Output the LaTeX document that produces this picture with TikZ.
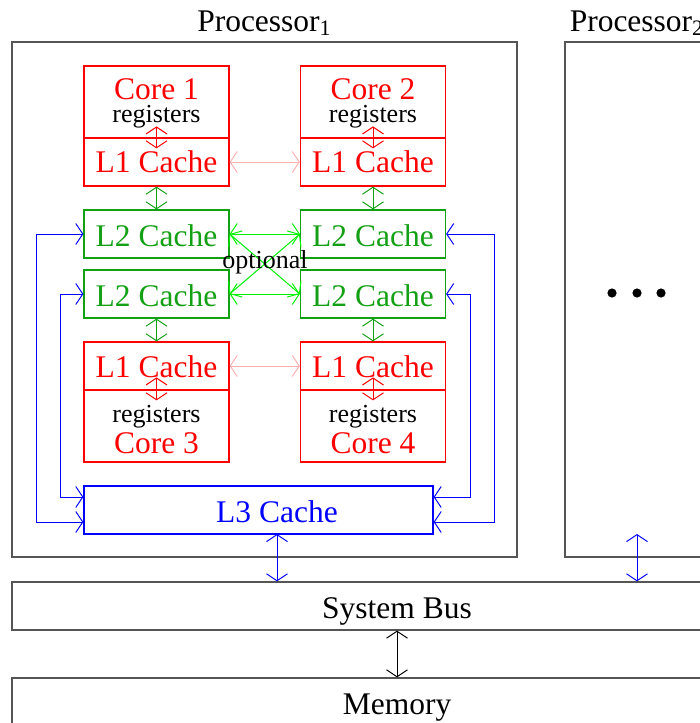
\documentclass[tikz,border=0pt]{standalone}
\usepackage{fontspec}
\setmainfont{Liberation Serif}
\usetikzlibrary{arrows.meta,calc}
\definecolor{boxgray}{RGB}{85,85,85}
\definecolor{cred}{RGB}{255,0,0}
\definecolor{cgreen}{RGB}{20,160,20}
\definecolor{clime}{RGB}{0,240,0}
\definecolor{cpink}{RGB}{255,176,176}
\definecolor{cblue}{RGB}{0,0,255}
\begin{document}
\begin{tikzpicture}[x=0.5pt,y=-0.5pt,
  box/.style={draw,line width=0.6pt,inner sep=0pt,anchor=center},
  bt/.style={font=\fontsize{15.75}{18}\selectfont,inner sep=0pt,anchor=base},
  st/.style={font=\fontsize{13}{15}\selectfont,inner sep=0pt,anchor=base},
  arr/.style={line width=0.5pt,{Straight Barb[length=3.5pt,width=10.5pt]}-{Straight Barb[length=3.5pt,width=10.5pt]}}]
\clip (0,0) rectangle (700,723);
% processors
\node[box,draw=boxgray,minimum width=252.5pt,minimum height=257.5pt] (P1) at (264.5,299.5) {};
\node[box,draw=boxgray,minimum width=72pt,minimum height=257.5pt] (P2) at (637,299.5) {};
\node[bt] (P1t) at (264.5,31) {Processor\textsubscript{1}};
\node[bt] (P2t) at (637,31) {Processor\textsubscript{2}};
% cores top
\node[box,draw=cred,minimum width=72.5pt,minimum height=36pt] (C1) at (156.5,102) {};
\node[box,draw=cred,minimum width=72.5pt,minimum height=24pt] (C1L1) at (156.5,162) {};
\node[box,draw=cred,minimum width=72.5pt,minimum height=36pt] (C2) at (373,102) {};
\node[box,draw=cred,minimum width=72.5pt,minimum height=24pt] (C2L1) at (373,162) {};
% L2
\node[box,draw=cgreen,minimum width=72.5pt,minimum height=24pt] (L2a) at (156.5,234) {};
\node[box,draw=cgreen,minimum width=72.5pt,minimum height=24pt] (L2b) at (373,234) {};
\node[box,draw=cgreen,minimum width=72.5pt,minimum height=24pt] (L2c) at (156.5,294) {};
\node[box,draw=cgreen,minimum width=72.5pt,minimum height=24pt] (L2d) at (373,294) {};
% cores bottom
\node[box,draw=cred,minimum width=72.5pt,minimum height=24pt] (C3L1) at (156.5,366) {};
\node[box,draw=cred,minimum width=72.5pt,minimum height=36pt] (C3) at (156.5,426) {};
\node[box,draw=cred,minimum width=72.5pt,minimum height=24pt] (C4L1) at (373,366) {};
\node[box,draw=cred,minimum width=72.5pt,minimum height=36pt] (C4) at (373,426) {};
% L3, bus, memory
\node[box,draw=cblue,minimum width=174.5pt,minimum height=24pt] (L3) at (258.5,510) {};
\node[box,draw=boxgray,minimum width=385pt,minimum height=24pt] (Bus) at (397,606) {};
\node[box,draw=boxgray,minimum width=385pt,minimum height=24pt] (Mem) at (397,702) {};
% texts
\node[bt,text=cred] (t1) at (156.5,99) {Core 1};
\node[st] (r1) at (156.5,122) {registers};
\node[bt,text=cred] (l11) at (156.5,172) {L1 Cache};
\node[bt,text=cred] (t2) at (373,99) {Core 2};
\node[st] (r2) at (373,122) {registers};
\node[bt,text=cred] (l12) at (373,172) {L1 Cache};
\node[bt,text=cgreen] (l2at) at (156.5,246) {L2 Cache};
\node[bt,text=cgreen] (l2bt) at (373,246) {L2 Cache};
\node[bt,text=cgreen] (l2ct) at (156.5,306) {L2 Cache};
\node[bt,text=cgreen] (l2dt) at (373,306) {L2 Cache};
\node[bt,text=cred] (l13) at (156.5,377) {L1 Cache};
\node[st] (r3) at (156.5,422) {registers};
\node[bt,text=cred] (t3) at (156.5,453) {Core 3};
\node[bt,text=cred] (l14) at (373,377) {L1 Cache};
\node[st] (r4) at (373,422) {registers};
\node[bt,text=cred] (t4) at (373,453) {Core 4};
\node[bt,text=cblue] (l3t) at (277,522) {L3 Cache};
\node[bt] (bust) at (397,618) {System Bus};
\node[bt] (memt) at (397,714) {Memory};
% dots
\fill (612,293) circle[radius=2.3pt];
\fill (637,293) circle[radius=2.3pt];
\fill (661,293) circle[radius=2.3pt];
% register <-> L1 arrows
\foreach \c in {C1L1,C2L1} {
  \draw[arr,cred] ($(\c.north)+(0,-11)$) -- ($(\c.north)+(0,11)$);
}
\foreach \c in {C3,C4} {
  \draw[arr,cred] ($(\c.north)+(0,-12)$) -- ($(\c.north)+(0,11)$);
}
% L1 <-> L1
\draw[arr,cpink] (C1L1.east) -- (C2L1.west);
\draw[arr,cpink] (C3L1.east) -- (C4L1.west);
% L1 <-> L2
\draw[arr,cgreen] (C1L1.south) -- (L2a.north);
\draw[arr,cgreen] (C2L1.south) -- (L2b.north);
\draw[arr,cgreen] (L2c.south) -- (C3L1.north);
\draw[arr,cgreen] (L2d.south) -- (C4L1.north);
% optional L2 links
\draw[arr,clime] (L2a.east) -- (L2b.west);
\draw[arr,clime] (L2c.east) -- (L2d.west);
\draw[arr,clime] (L2a.east) -- (L2d.west);
\draw[arr,clime] (L2c.east) -- (L2b.west);
\node[st] (opt) at (265,268) {optional};
% L2 <-> L3
\draw[arr,cblue] (L2a.west) -- ++(-47,0) |- ($(L3.west)+(0,12)$);
\draw[arr,cblue] (L2c.west) -- ++(-23,0) |- ($(L3.west)+(0,-13)$);
\draw[arr,cblue] (L2b.east) -- ++(48,0) |- ($(L3.east)+(0,12)$);
\draw[arr,cblue] (L2d.east) -- ++(24,0) |- ($(L3.east)+(0,-13)$);
% L3 / processor 2 <-> bus
\coordinate (l3b) at (277,534);
\coordinate (p2b) at (637,534);
\draw[arr,cblue] (l3b) -- (l3b |- Bus.north);
\draw[arr,cblue] (p2b) -- (p2b |- Bus.north);
% bus <-> memory
\draw[arr,black] (Bus.south) -- (Mem.north);
\end{tikzpicture}
\end{document}
